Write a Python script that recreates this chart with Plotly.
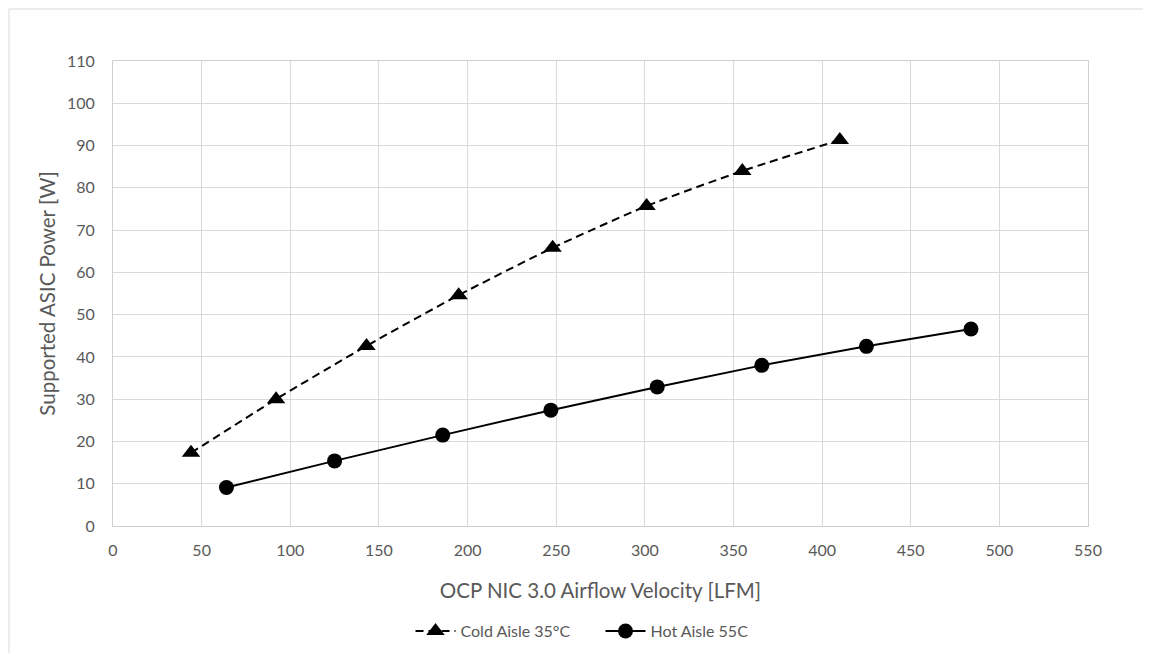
import plotly.graph_objects as go

# Cold aisle 35°C (dashed, triangles)
cold_lfm = [44, 92, 143, 195, 248, 301, 355, 410]
cold_power = [17.3, 30.0, 42.6, 54.6, 65.8, 75.7, 84.0, 91.3]

# Hot aisle 55C (solid, circles)
hot_lfm = [64, 125, 186, 247, 307, 366, 425, 484]
hot_power = [9.1, 15.4, 21.5, 27.4, 32.9, 38.0, 42.5, 46.6]

x_ticks = list(range(0, 551, 50))
y_ticks = list(range(0, 111, 10))

FONT = "Lato, Carlito, 'Liberation Sans', sans-serif"
GREY = "#595959"

fig = go.Figure()

fig.add_trace(go.Scatter(
    x=cold_lfm, y=cold_power,
    mode="lines+markers",
    name="Cold Aisle 35°C",
    line=dict(color="black", width=2, dash="8px,5px", shape="spline", smoothing=0.6),
    marker=dict(symbol="triangle-up", size=16, color="black"),
))
fig.add_trace(go.Scatter(
    x=hot_lfm, y=hot_power,
    mode="lines+markers",
    name="Hot Aisle 55C",
    line=dict(color="black", width=2),
    marker=dict(symbol="circle", size=15, color="black"),
))

# page body adds ~8px offset, margins compensate
fig.update_layout(
    width=1151, height=653,
    margin=dict(l=105, r=71, t=53, b=135),
    paper_bgcolor="white",
    plot_bgcolor="white",
    font=dict(family=FONT, color=GREY, size=16),
    showlegend=True,
    legend=dict(
        orientation="h",
        x=0.50, xanchor="center",
        y=-0.226, yanchor="middle",
        font=dict(size=16, color=GREY),
        itemwidth=40,
        entrywidth=135, entrywidthmode="pixels",
        traceorder="normal",
    ),
)

fig.update_xaxes(
    range=[0, 550],
    tickvals=x_ticks,
    showgrid=True, gridcolor="#d9d9d9", gridwidth=1,
    showline=True, linecolor="#d0d0d0", linewidth=1, mirror=True,
    zeroline=False,
    ticks="", ticklabelstandoff=10,
    tickfont=dict(size=16, color=GREY),
    title=dict(text="OCP NIC 3.0 Airflow Velocity [LFM]",
               font=dict(size=20.5, color=GREY), standoff=25),
)
fig.update_yaxes(
    range=[0, 110],
    tickvals=y_ticks,
    showgrid=True, gridcolor="#d9d9d9", gridwidth=1,
    showline=True, linecolor="#d0d0d0", linewidth=1, mirror=True,
    zeroline=False,
    ticks="", ticklabelstandoff=14,
    tickfont=dict(size=16, color=GREY),
    title=dict(text="Supported ASIC Power [W]",
               font=dict(size=20.5, color=GREY), standoff=5),
)

# light chart-area border like the source
fig.add_shape(
    type="rect", xref="paper", yref="paper",
    x0=-104 / 975, x1=1100 / 975, y0=-1.5, y1=517 / 465,
    line=dict(color="#d9d9d9", width=1), fillcolor="rgba(0,0,0,0)",
    layer="below",
)

fig.write_html("out.html")
